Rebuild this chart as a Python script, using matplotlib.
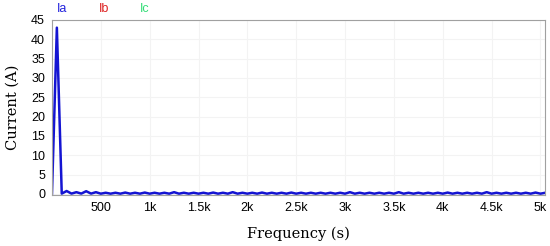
import numpy as np
import matplotlib.pyplot as plt

# spectrum sampled every 50 Hz (0 ... 5050 Hz)
freq = np.arange(0, 5051, 50)
ia = [
    0.1, 43.0, 0.08, 0.75, 0.08, 0.45, 0.08, 0.7, 0.08, 0.45,
    0.06, 0.3, 0.06, 0.3, 0.06, 0.35, 0.06, 0.3, 0.06, 0.35,
    0.06, 0.3, 0.06, 0.3, 0.06, 0.45, 0.06, 0.3, 0.06, 0.3,
    0.06, 0.3, 0.06, 0.35, 0.06, 0.3, 0.06, 0.45, 0.06, 0.3,
    0.06, 0.3, 0.06, 0.35, 0.06, 0.3, 0.06, 0.3, 0.06, 0.35,
    0.06, 0.3, 0.06, 0.3, 0.06, 0.3, 0.06, 0.3, 0.06, 0.3,
    0.06, 0.45, 0.06, 0.3, 0.06, 0.3, 0.06, 0.3, 0.06, 0.3,
    0.06, 0.45, 0.06, 0.3, 0.06, 0.3, 0.06, 0.3, 0.06, 0.3,
    0.06, 0.35, 0.06, 0.3, 0.06, 0.3, 0.06, 0.3, 0.06, 0.45,
    0.06, 0.3, 0.06, 0.3, 0.06, 0.3, 0.06, 0.3, 0.06, 0.35,
    0.06, 0.3,
]
xticks = [500, 1000, 1500, 2000, 2500, 3000, 3500, 4000, 4500, 5000]
xlabels = ['500', '1k', '1.5k', '2k', '2.5k', '3k', '3.5k', '4k', '4.5k', '5k']
yticks = [0, 5, 10, 15, 20, 25, 30, 35, 40, 45]
legend_names = ['Ia', 'Ib', 'Ic']
legend_colors = ['#2222dd', '#dd2222', '#33dd77']

fig = plt.figure(figsize=(5.5, 2.46), dpi=100)
ax = fig.add_axes([0.0945, 0.207, 0.897, 0.712])

ax.plot(freq, ia, color='#1414d2', lw=1.8)

ax.set_xlim(0, 5050)
ax.set_ylim(-0.3, 45)
ax.set_xticks(xticks)
ax.set_xticklabels(xlabels)
ax.set_yticks(yticks)
ax.tick_params(length=0, labelsize=9, pad=5)
for lab in ax.get_xticklabels() + ax.get_yticklabels():
    lab.set_family('Liberation Sans')
ax.grid(True, color='#f3f3f3', lw=0.8)
for s in ax.spines.values():
    s.set_color('#a0a0a0')
    s.set_linewidth(0.8)

ax.set_xlabel('Frequency (s)', family='DejaVu Serif', fontsize=10.5, labelpad=9)
ax.set_ylabel('Current (A)', family='DejaVu Serif', fontsize=10.5, labelpad=8)

for i, (name, c) in enumerate(zip(legend_names, legend_colors)):
    fig.text(0.104 + i * 0.075, 0.965, name, color=c, fontsize=9,
             family='Liberation Sans', ha='left', va='center')

plt.savefig('out.png', dpi=100)
